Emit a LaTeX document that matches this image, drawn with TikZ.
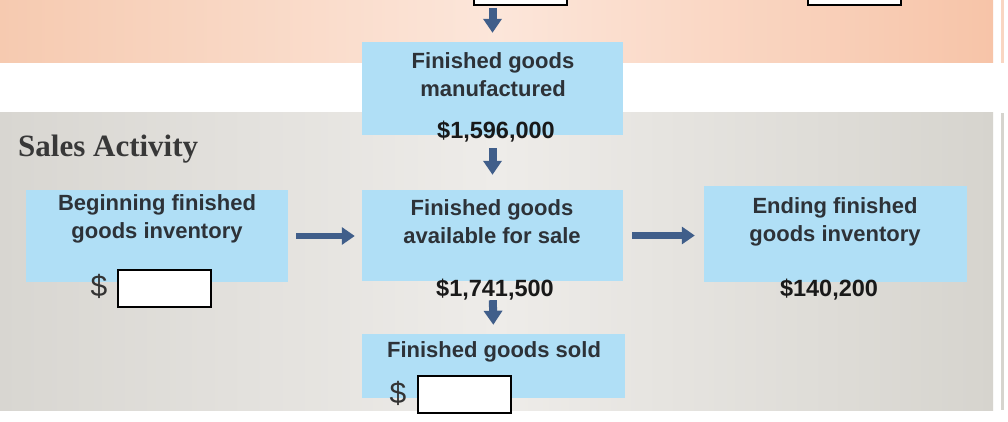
\documentclass[tikz,border=0pt]{standalone}
\usepackage{fontspec}
\setmainfont{Liberation Sans}
\newfontfamily\serifbold{Liberation Serif}
\usetikzlibrary{arrows.meta,shadings}
\definecolor{orL}{RGB}{246,202,176}
\definecolor{orM}{RGB}{252,230,218}
\definecolor{orR}{RGB}{247,196,168}
\definecolor{grL}{RGB}{216,214,209}
\definecolor{grM}{RGB}{238,236,233}
\definecolor{grR}{RGB}{214,212,206}
\definecolor{boxblue}{RGB}{176,223,246}
\definecolor{arrblue}{RGB}{64,94,138}
\definecolor{txtdark}{RGB}{45,50,56}
\tikzset{
  bluebox/.style={fill=boxblue, draw=none, inner sep=0pt},
  inputbox/.style={fill=white, draw=black, line width=2pt, inner sep=0pt},
  boxtext/.style={font=\fontsize{22}{28}\selectfont\bfseries, text=txtdark, align=center, inner sep=0pt},
  amount/.style={font=\fontsize{23.5}{28}\selectfont\bfseries, text=black!90, inner sep=0pt},
  dollar/.style={font=\fontsize{30}{34}\selectfont, text=black!80, inner sep=0pt},
  harr/.style={draw=arrblue, line width=6.5pt, -{Triangle[width=17pt,length=13pt]}},
  varr/.style={draw=arrblue, line width=8pt, -{Triangle[width=18pt,length=14pt]}},
}
\begin{document}
\begin{tikzpicture}[x=1pt,y=-1pt]
\useasboundingbox (0,0) rectangle (1008,422);
\clip (0,0) rectangle (1008,422);
\fill[white] (0,0) rectangle (1008,422);
% background bands
\shade[left color=orL, right color=orR, middle color=orM, draw=none] (0,0) rectangle (993,63);
\shade[left color=grL, right color=grR, middle color=grM, draw=none] (0,113) rectangle (993,410);
\fill[orR!70] (1001,0) rectangle (1004,63);
\fill[grR] (1001,113) rectangle (1004,410);
% title
\node[font=\serifbold\fontsize{31}{34}\selectfont\bfseries, text=black!78, anchor=base west, inner sep=0pt] (title) at (18,157) {Sales Activity};
% input boxes at top
\node[inputbox, minimum width=93pt, minimum height=40pt] (top1) at (520.5,-15) {};
\node[inputbox, minimum width=93pt, minimum height=40pt] (top2) at (854.5,-15) {};
% blue boxes
\node[bluebox, minimum width=261pt, minimum height=93pt] (fgm) at (492.5,88.5) {};
\node[bluebox, minimum width=261pt, minimum height=91pt] (fga) at (492.5,235.5) {};
\node[bluebox, minimum width=263pt, minimum height=64pt] (fgs) at (493.5,366) {};
\node[bluebox, minimum width=262pt, minimum height=92pt] (beg) at (157,236) {};
\node[bluebox, minimum width=263pt, minimum height=96pt] (endb) at (835.5,234) {};
% texts
\node[boxtext] (t1) at (493,74.5) {Finished goods\\manufactured};
\node[amount] (a1) at (496,132) {\$1,596,000};
\node[boxtext] (t2) at (492,221.5) {Finished goods\\available for sale};
\node[amount] (a2) at (495,290) {\$1,741,500};
\node[boxtext] (t3) at (494,352) {Finished goods sold};
\node[boxtext] (t4) at (157,218.5) {Beginning finished\\goods inventory};
\node[boxtext] (t5) at (835,221.5) {Ending finished\\goods inventory};
\node[amount] (a5) at (829,290) {\$140,200};
% input boxes
\node[inputbox, minimum width=93pt, minimum height=37pt] (inbeg) at (164.5,288.5) {};
\node[dollar] (d1) at (99,286) {\$};
\node[inputbox, minimum width=93pt, minimum height=37pt] (insold) at (464.5,394.5) {};
\node[dollar] (d2) at (398,393) {\$};
% arrows
\draw[varr, shorten <=2pt, shorten >=9pt] (top1.south -| fgm.north) -- (fgm.north);
\draw[varr, shorten <=13pt, shorten >=15pt] (fgm.south) -- (fga.north);
\draw[varr, shorten <=19pt, shorten >=9pt] (fga.south) -- (fgs.north);
\draw[harr, shorten <=8pt, shorten >=7pt] (beg.east) -- (beg.east -| fga.west);
\draw[harr, shorten <=9pt, shorten >=9pt] (fga.east) -- (fga.east -| endb.west);
\end{tikzpicture}
\end{document}
